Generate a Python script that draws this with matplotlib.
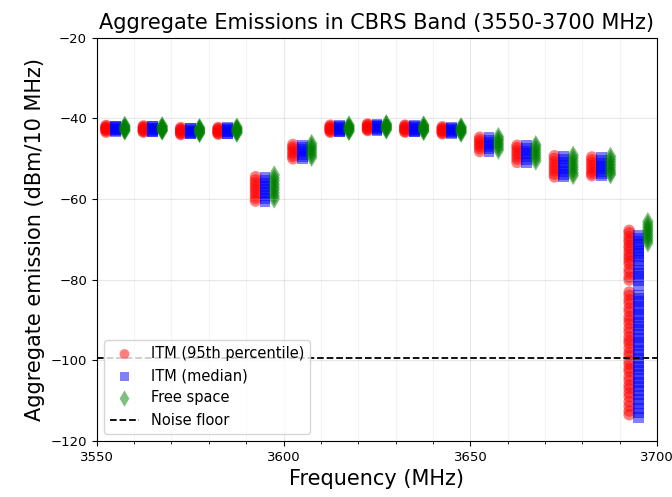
import matplotlib
matplotlib.use("Agg")
import matplotlib.pyplot as plt
from matplotlib.ticker import MultipleLocator

# Channel centre frequencies (MHz)
channels = [3555, 3565, 3575, 3585, 3595, 3605, 3615, 3625, 3635, 3645,
            3655, 3665, 3675, 3685, 3695]

# ITM (95th percentile) aggregate emissions per channel (dBm/10 MHz)
itm95 = [
    [-41.8, -42.0, -42.3, -42.5, -42.6, -42.9, -43.1, -43.4],
    [-41.9, -42.1, -42.3, -42.6, -42.8, -43.0, -43.2, -43.4],
    [-42.3, -42.6, -42.8, -43.0, -43.3, -43.5, -43.8, -44.0],
    [-42.3, -42.5, -42.8, -43.0, -43.2, -43.5, -43.7, -43.9],
    [-54.5, -55.3, -56.0, -56.8, -57.5, -58.2, -59.0, -59.8, -60.5],
    [-46.5, -47.1, -47.6, -48.2, -48.8, -49.4, -50.0],
    [-41.7, -42.0, -42.2, -42.5, -42.7, -42.9, -43.2, -43.4],
    [-41.4, -41.6, -41.9, -42.1, -42.3, -42.6, -42.8, -43.0],
    [-41.7, -41.9, -42.2, -42.5, -42.7, -42.9, -43.2, -43.4],
    [-42.1, -42.4, -42.6, -42.9, -43.1, -43.3, -43.6, -43.8],
    [-44.7, -45.3, -45.8, -46.4, -46.9, -47.5, -48.2],
    [-46.7, -47.3, -48.0, -48.7, -49.4, -50.1, -50.9],
    [-49.3, -50.0, -50.8, -51.6, -52.3, -53.0, -53.8, -54.5],
    [-49.6, -50.3, -51.0, -51.7, -52.4, -53.1, -53.7, -54.2],
    [-67.8, -68.4, -69.3, -70.1, -70.7, -71.6, -72.2, -73.1, -73.9, -74.6,
     -75.4, -76.1, -77.4, -78.2, -79.4, -80.1, -83.1, -83.9, -85.0, -85.8,
     -87.1, -87.9, -89.2, -90.0, -90.9, -92.1, -93.0, -94.2, -95.1, -95.8,
     -97.0, -98.1, -98.9, -100.2, -101.0, -102.1, -102.8, -104.1, -105.0,
     -106.2, -107.0, -108.1, -109.0, -110.3, -111.4, -112.6, -113.5],
]

# ITM (median) aggregate emissions per channel (dBm/10 MHz)
itm_median = [
    [-41.9, -42.1, -42.3, -42.5, -42.7, -42.9, -43.1, -43.3],
    [-41.9, -42.1, -42.4, -42.6, -42.8, -43.0, -43.2, -43.4],
    [-42.4, -42.6, -42.9, -43.1, -43.3, -43.5, -43.7, -43.9],
    [-42.3, -42.5, -42.8, -43.0, -43.2, -43.4, -43.7, -43.9],
    [-54.6, -55.4, -56.1, -56.9, -57.6, -58.3, -59.1, -59.9, -60.6],
    [-46.6, -47.2, -47.7, -48.3, -48.9, -49.5, -50.0],
    [-41.8, -42.0, -42.3, -42.5, -42.7, -43.0, -43.2, -43.4],
    [-41.5, -41.7, -41.9, -42.1, -42.4, -42.6, -42.8, -43.0],
    [-41.8, -42.0, -42.2, -42.5, -42.7, -43.0, -43.2, -43.4],
    [-42.2, -42.4, -42.7, -42.9, -43.1, -43.4, -43.6, -43.8],
    [-44.8, -45.4, -45.9, -46.5, -47.0, -47.6, -48.2],
    [-46.8, -47.4, -48.1, -48.8, -49.5, -50.2, -50.9],
    [-49.4, -50.1, -50.9, -51.7, -52.4, -53.1, -53.9, -54.5],
    [-49.7, -50.4, -51.1, -51.8, -52.5, -53.2, -53.8, -54.2],
    [-69.0, -69.7, -70.5, -71.3, -72.0, -72.9, -73.6, -74.4, -75.2, -76.4,
     -77.6, -78.5, -79.2, -80.3, -81.6, -83.8, -84.6, -85.5, -86.7, -87.5,
     -88.6, -89.4, -90.7, -91.5, -92.4, -93.6, -94.5, -95.6, -96.4, -97.5,
     -98.6, -99.5, -100.6, -101.5, -102.4, -103.6, -104.5, -105.6, -106.5,
     -107.6, -108.6, -109.7, -110.8, -111.9, -113.1, -114.2],
]

# Free-space aggregate emissions per channel (dBm/10 MHz)
free_space = [
    [-41.7, -41.9, -42.2, -42.4, -42.6, -42.8, -43.0, -43.2],
    [-41.8, -42.0, -42.2, -42.5, -42.7, -42.9, -43.0, -43.2],
    [-42.2, -42.5, -42.7, -42.9, -43.2, -43.4, -43.6, -43.8],
    [-42.1, -42.4, -42.6, -42.8, -43.0, -43.3, -43.5, -43.7],
    [-54.0, -54.8, -55.5, -56.3, -57.0, -57.7, -58.5, -59.3, -60.0],
    [-46.2, -46.8, -47.3, -47.9, -48.5, -49.1, -49.7],
    [-41.6, -41.9, -42.1, -42.4, -42.6, -42.8, -43.1, -43.3],
    [-41.3, -41.5, -41.8, -42.0, -42.2, -42.5, -42.7, -42.9],
    [-41.6, -41.8, -42.1, -42.4, -42.6, -42.8, -43.1, -43.3],
    [-42.0, -42.3, -42.5, -42.8, -43.0, -43.2, -43.5, -43.7],
    [-44.5, -45.1, -45.6, -46.2, -46.7, -47.3, -47.9],
    [-46.5, -47.1, -47.8, -48.5, -49.2, -49.9, -50.6],
    [-49.1, -49.8, -50.6, -51.4, -52.1, -52.8, -53.6, -54.2],
    [-49.4, -50.1, -50.8, -51.5, -52.2, -52.9, -53.5, -54.0],
    [-65.6, -66.3, -67.0, -67.6, -68.2, -68.9, -69.5, -70.2, -70.9],
]

noise_floor = -99.5
x_offsets = [-2.5, 0.0, 2.5]

fig = plt.figure(figsize=(6.72, 4.97), dpi=100)
ax = fig.add_axes([0.144, 0.113, 0.834, 0.811])

series = [
    (itm95, "red", "o", 70, "ITM (95th percentile)"),
    (itm_median, "blue", "s", 60, "ITM (median)"),
    (free_space, "green", "d", 95, "Free space"),
]

for (data, color, marker, size, label), dx in zip(series, x_offsets):
    xs, ys = [], []
    for ch, vals in zip(channels, data):
        xs.extend([ch + dx] * len(vals))
        ys.extend(vals)
    ax.scatter(xs, ys, s=size, c=color, marker=marker, alpha=0.5,
               edgecolors="none", label=label)

ax.axhline(noise_floor, color="black", linestyle="--", linewidth=1.3,
           label="Noise floor")

ax.set_xlim(3550, 3700)
ax.set_ylim(-120, -20)
ax.xaxis.set_major_locator(MultipleLocator(50))
ax.xaxis.set_minor_locator(MultipleLocator(10))
ax.yaxis.set_major_locator(MultipleLocator(20))
ax.grid(which="major", alpha=0.3)
ax.grid(which="minor", axis="x", alpha=0.15)
ax.tick_params(labelsize=9.5)

ax.set_title("Aggregate Emissions in CBRS Band (3550-3700 MHz)", fontsize=15)
ax.set_xlabel("Frequency (MHz)", fontsize=15)
ax.set_ylabel("Aggregate emission (dBm/10 MHz)", fontsize=15)
ax.legend(loc="lower left", fontsize=10.5, markerscale=0.85)

fig.savefig("out.png", dpi=100)
